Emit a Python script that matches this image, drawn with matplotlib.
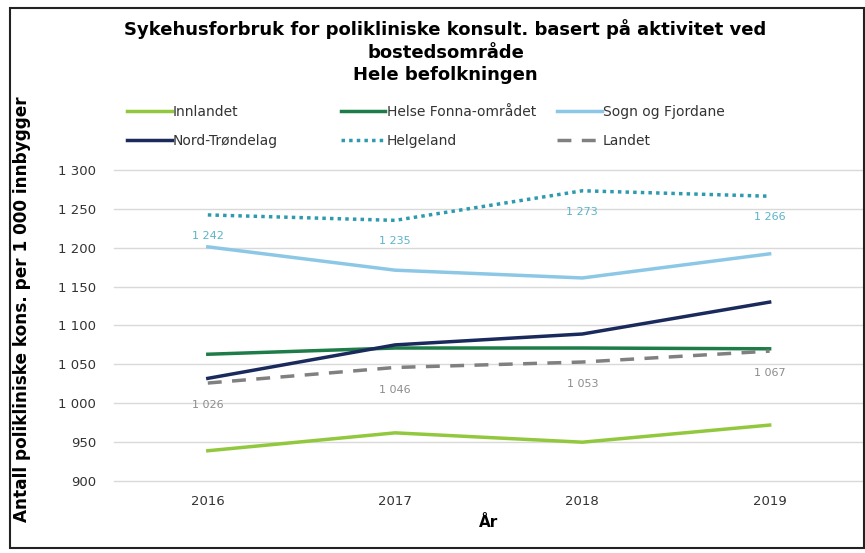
import matplotlib
matplotlib.use("Agg")
import matplotlib.pyplot as plt
from matplotlib.ticker import FuncFormatter
from matplotlib.patches import Rectangle

# Data
years = ["2016", "2017", "2018", "2019"]
innlandet = [939, 962, 950, 972]
helse_fonna = [1063, 1071, 1071, 1070]
sogn_fjordane = [1201, 1171, 1161, 1192]
nord_trondelag = [1032, 1075, 1089, 1130]
helgeland = [1242, 1235, 1273, 1266]
landet = [1026, 1046, 1053, 1067]

plt.rcParams["font.family"] = ["DejaVu Sans"]

fig = plt.figure(figsize=(8.65, 5.53), dpi=100)
ax = fig.add_axes([0.132, 0.130, 0.866, 0.563])

x = range(len(years))
l1, = ax.plot(x, innlandet, color="#92C83E", linewidth=2.5, label="Innlandet")
l2, = ax.plot(x, helse_fonna, color="#1E7C48", linewidth=2.5, label="Helse Fonna-området")
l3, = ax.plot(x, sogn_fjordane, color="#8CC8E6", linewidth=2.5, label="Sogn og Fjordane")
l4, = ax.plot(x, nord_trondelag, color="#1B2A5C", linewidth=2.5, label="Nord-Trøndelag")
l5, = ax.plot(x, helgeland, color="#2E9AAE", linewidth=2.5, linestyle=(0, (1, 1.2)),
              label="Helgeland")
l6, = ax.plot(x, landet, color="#808080", linewidth=2.5, linestyle=(0, (4, 3)), label="Landet")

# Data labels under Helgeland and Landet
def fmt(v):
    return f"{v:,.0f}".replace(",", " ")

for i, v in enumerate(helgeland):
    ax.annotate(fmt(v), (i, v), xytext=(0, -15), textcoords="offset points",
                ha="center", va="center", fontsize=8, color="#5AB4C8")
for i, v in enumerate(landet):
    ax.annotate(fmt(v), (i, v), xytext=(0, -16), textcoords="offset points",
                ha="center", va="center", fontsize=8, color="#8C8C8C")

ax.set_xlim(-0.5, 3.5)
ax.set_ylim(900, 1300)
ax.set_xticks(list(x))
ax.set_xticklabels(years, fontsize=9.5, color="#333333")
ax.set_yticks(range(900, 1301, 50))
ax.yaxis.set_major_formatter(FuncFormatter(lambda v, p: fmt(v)))
ax.tick_params(axis="y", labelsize=9.5, colors="#333333", length=0, pad=13)
ax.tick_params(axis="x", length=0, pad=10)
ax.grid(axis="y", color="#D9D9D9", linewidth=1)
for gl in ax.yaxis.get_gridlines():
    gl.set_clip_on(False)
ax.set_axisbelow(True)
for s in ax.spines.values():
    s.set_visible(False)

ax.set_xlabel("År", fontsize=11, fontweight="bold", labelpad=5)
fig.text(0.026, 0.44, "Antall polikliniske kons. per 1 000 innbygger", rotation=90,
         ha="center", va="center", fontsize=12.2, fontweight="bold")

fig.text(0.515, 0.965,
         "Sykehusforbruk for polikliniske konsult. basert på aktivitet ved\n"
         "bostedsområde\nHele befolkningen",
         ha="center", va="top", fontsize=13, fontweight="bold", linespacing=1.3)

# Legend in three fixed columns
cols = [([l1, l4], 0.147), ([l2, l5], 0.394), ([l3, l6], 0.644)]
for handles, xpos in cols:
    leg = fig.legend(handles=handles, loc="upper left", bbox_to_anchor=(xpos, 0.81),
                     frameon=False, fontsize=10, handlelength=3.2, handletextpad=0.1,
                     labelspacing=1.05, borderaxespad=0, borderpad=0)
    for t in leg.get_texts():
        t.set_color("#333333")

fig.patches.append(Rectangle((0.011, 0.009), 0.988, 0.977, transform=fig.transFigure,
                             fill=False, edgecolor="#222222", linewidth=1.5))

fig.savefig("out.png", dpi=100)
